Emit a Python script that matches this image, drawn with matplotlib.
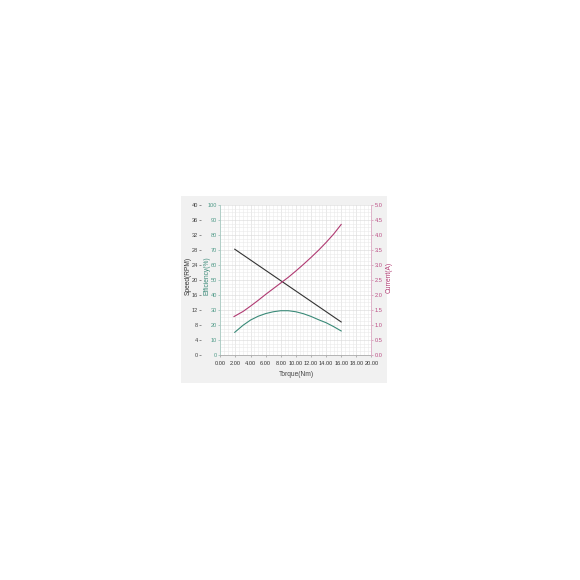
import matplotlib
matplotlib.use("Agg")
import matplotlib.pyplot as plt
from matplotlib.ticker import MultipleLocator, FormatStrFormatter

plt.rcParams["font.family"] = ["Liberation Sans", "DejaVu Sans"]

# ---- data ----
torque_speed = [1.9, 16.0]
speed = [28.2, 8.8]

torque_eff = [1.9, 3, 4, 5, 6, 7, 8, 9, 10, 11, 12, 13, 14, 15, 16]
efficiency = [15.1, 19.8, 23.3, 25.8, 27.6, 28.8, 29.5, 29.5, 28.8, 27.5, 25.7, 23.5, 21.5, 18.9, 16.0]

torque_cur = [1.8, 3, 4, 5, 6, 7, 8, 9, 10, 11, 12, 13, 14, 15, 16]
current = [1.28, 1.45, 1.63, 1.82, 2.02, 2.21, 2.40, 2.59, 2.80, 3.02, 3.25, 3.49, 3.75, 4.03, 4.35]

x_ticks = [0, 2, 4, 6, 8, 10, 12, 14, 16, 18, 20]
speed_ticks = [0, 4, 8, 12, 16, 20, 24, 28, 32, 36, 40]
eff_ticks = [0, 10, 20, 30, 40, 50, 60, 70, 80, 90, 100]
cur_ticks = [0.0, 0.5, 1.0, 1.5, 2.0, 2.5, 3.0, 3.5, 4.0, 4.5, 5.0]

c_speed = "#333333"
c_eff = "#3a8a78"
c_cur = "#b03a72"
fs = 4.1
lfs = 4.8

fig = plt.figure(figsize=(5.8, 5.8), dpi=100)
bg = fig.add_axes([0.312, 0.340, 0.355, 0.322], zorder=-5)
bg.set_facecolor("#f1f1f1")
bg.set_xticks([])
bg.set_yticks([])
for s in bg.spines.values():
    s.set_visible(False)

ax = fig.add_axes([0.380, 0.388, 0.2603, 0.2586])
ax.set_facecolor("white")
ax.set_xlim(0, 20)
ax.set_ylim(0, 100)
ax.set_xticks(x_ticks)
ax.xaxis.set_major_formatter(FormatStrFormatter("%.2f"))
ax.set_yticks(eff_ticks)
ax.xaxis.set_minor_locator(MultipleLocator(0.5))
ax.yaxis.set_minor_locator(MultipleLocator(2.5))
ax.grid(which="major", color="#dcdcdc", linewidth=0.45)
ax.grid(which="minor", color="#eaeaea", linewidth=0.4)
ax.tick_params(which="minor", length=0)
ax.tick_params(axis="x", labelsize=fs, length=1.5, width=0.5, colors="#999999", labelcolor="#333333", pad=2.5)
ax.tick_params(axis="y", labelsize=fs, length=1.5, width=0.5, colors="#8fbfb3", labelcolor="#4f9a88", pad=0.8)
for s in ["top", "right"]:
    ax.spines[s].set_visible(False)
ax.spines["bottom"].set_color("#aaaaaa")
ax.spines["left"].set_color("#a8cac2")
for s in ["bottom", "left"]:
    ax.spines[s].set_linewidth(0.6)
ax.set_xlabel("Torque(Nm)", fontsize=lfs, color="#444444")
ax.xaxis.set_label_coords(0.5, -0.105)
ax.set_ylabel("Efficiency(%)", fontsize=lfs, color=c_eff)
ax.yaxis.set_label_coords(-0.068, 0.527)
ax.plot(torque_eff, efficiency, color=c_eff, linewidth=0.8)

# speed axis (outer left)
axs = ax.twinx()
axs.set_ylim(0, 40)
axs.set_yticks(speed_ticks)
axs.yaxis.set_ticks_position("left")
axs.yaxis.set_label_position("left")
axs.spines["left"].set_position(("outward", 14))
for s in ["top", "right", "bottom", "left"]:
    axs.spines[s].set_visible(False)
axs.tick_params(axis="y", labelsize=fs, length=1.5, width=0.5, colors="#666666", labelcolor="#444444", pad=0.8)
axs.set_ylabel("Speed(RPM)", fontsize=lfs, color=c_speed)
axs.yaxis.set_label_coords(-0.192, 0.527)
axs.plot(torque_speed, speed, color=c_speed, linewidth=0.8)

# current axis (right)
axc = ax.twinx()
axc.set_ylim(0, 5)
axc.set_yticks(cur_ticks)
axc.yaxis.set_major_formatter(FormatStrFormatter("%.1f"))
for s in ["top", "left", "bottom"]:
    axc.spines[s].set_visible(False)
axc.spines["right"].set_color("#dbaac3")
axc.spines["right"].set_linewidth(0.6)
axc.tick_params(axis="y", labelsize=fs, length=1.5, width=0.5, colors="#d08aae", labelcolor="#bb4a82", pad=0.8)
axc.set_ylabel("Current(A)", fontsize=lfs, color=c_cur)
axc.yaxis.set_label_coords(1.093, 0.52)
axc.plot(torque_cur, current, color=c_cur, linewidth=0.8)

fig.savefig("out.png", dpi=100)
